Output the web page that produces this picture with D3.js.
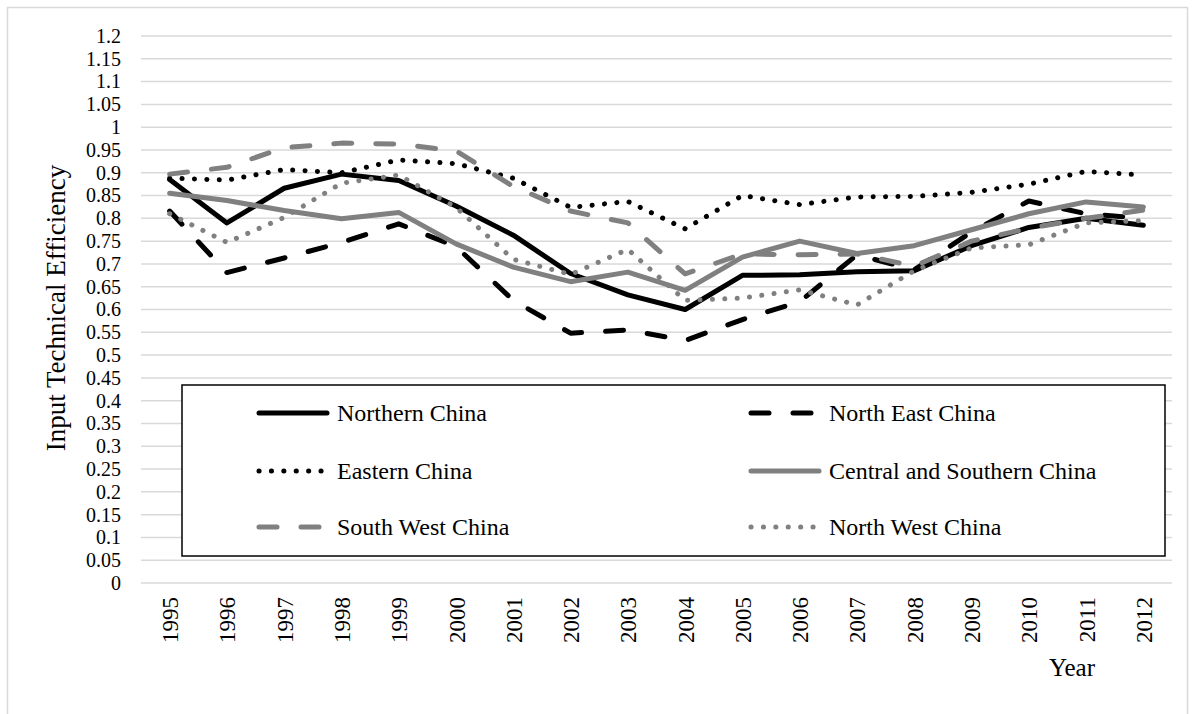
<html>
<head>
<script src="https://d3js.org/d3.v7.min.js"></script>
<style>
	body {
		margin: 0;
		background-color: white;
	}
	text {
		font-family: "Liberation Serif", "Times New Roman", serif;
	}
</style>
</head>
<body>
<div id="chart"></div>
<script>
	var width = 1195;
	var height = 714;

	var years = ["1995","1996","1997","1998","1999","2000","2001","2002","2003","2004","2005","2006","2007","2008","2009","2010","2011","2012"];
	var yTicks = [0,0.05,0.1,0.15,0.2,0.25,0.3,0.35,0.4,0.45,0.5,0.55,0.6,0.65,0.7,0.75,0.8,0.85,0.9,0.95,1,1.05,1.1,1.15,1.2];

	var northern = [0.885,0.790,0.866,0.897,0.883,0.827,0.763,0.679,0.632,0.600,0.675,0.676,0.683,0.685,0.740,0.780,0.800,0.785];
	var northEast = [0.816,0.681,0.713,0.747,0.788,0.738,0.620,0.548,0.555,0.532,0.578,0.617,0.720,0.687,0.770,0.838,0.810,0.800];
	var eastern = [0.888,0.884,0.907,0.900,0.928,0.920,0.888,0.824,0.837,0.777,0.850,0.830,0.847,0.848,0.857,0.875,0.903,0.895];
	var central = [0.855,0.839,0.817,0.799,0.813,0.744,0.693,0.661,0.682,0.642,0.715,0.750,0.723,0.740,0.775,0.810,0.836,0.825];
	var southWest = [0.897,0.912,0.955,0.965,0.963,0.948,0.870,0.816,0.790,0.678,0.722,0.720,0.722,0.695,0.750,0.778,0.800,0.818];
	var northWest = [0.810,0.747,0.802,0.877,0.895,0.824,0.710,0.677,0.732,0.620,0.625,0.643,0.610,0.685,0.735,0.742,0.790,0.795];

	var seriesNames = ["Northern China","North East China","Eastern China","Central and Southern China","South West China","North West China"];
	var seriesValues = [northern, northEast, eastern, central, southWest, northWest];
	// colour and dash per series
	var styles = [
		{color:"#000000", dash:null},
		{color:"#000000", dash:"18,24"},
		{color:"#000000", dash:"0.1,12.3"},
		{color:"#808080", dash:null},
		{color:"#808080", dash:"18,24"},
		{color:"#808080", dash:"0.1,12.3"}
	];

	var plotLeft = 141, plotRight = 1172, plotTop = 36, plotBottom = 583;

	var svg = d3.select("#chart").append("svg")
		.attr("width", width)
		.attr("height", height);

	svg.append("rect")
		.attr("x", 7.5).attr("y", 7.5)
		.attr("width", 1180).attr("height", 712)
		.attr("fill", "white")
		.attr("stroke", "#d9d9d9")
		.attr("stroke-width", 1.5);

	var x = d3.scalePoint()
		.domain(years)
		.range([plotLeft, plotRight])
		.padding(0.5);

	var y = d3.scaleLinear()
		.domain([0, 1.2])
		.range([plotBottom, plotTop]);

	// gridlines
	svg.selectAll("line.grid")
		.data(yTicks)
		.enter()
		.append("line")
		.attr("class", "grid")
		.attr("x1", plotLeft)
		.attr("x2", plotRight)
		.attr("y1", function(d){ return y(d); })
		.attr("y2", function(d){ return y(d); })
		.attr("stroke", "#d9d9d9")
		.attr("stroke-width", 1.5);

	// y axis labels (tight spacing, keep boxes from touching)
	var yAxis = d3.axisLeft(y)
		.tickValues(yTicks)
		.tickSize(0)
		.tickPadding(0)
		.tickFormat(function(d){ return String(+d.toFixed(2)); });
	var gy = svg.append("g")
		.attr("transform", "translate(121,0)")
		.call(yAxis);
	gy.select(".domain").remove();
	gy.selectAll("text")
		.attr("font-family", "Liberation Serif")
		.attr("font-size", 20)
		.attr("fill", "#000");

	// x axis labels
	var xAxis = d3.axisBottom(x).tickSize(0).tickPadding(0);
	var gx = svg.append("g")
		.attr("transform", "translate(0," + plotBottom + ")")
		.call(xAxis);
	gx.select(".domain").remove();
	gx.selectAll("text")
		.attr("font-family", "Liberation Serif")
		.attr("font-size", 23)
		.attr("fill", "#000")
		.attr("text-anchor", "end")
		.attr("dy", null)
		.attr("y", 0)
		.attr("transform", "translate(8,14) rotate(-90)");

	// lines
	var line = d3.line()
		.x(function(d, i){ return x(years[i]); })
		.y(function(d){ return y(d); });

	seriesValues.forEach(function(vals, k){
		svg.append("path")
			.datum(vals)
			.attr("d", line)
			.attr("fill", "none")
			.attr("stroke", styles[k].color)
			.attr("stroke-width", 5)
			.attr("stroke-linecap", "round")
			.attr("stroke-linejoin", "round")
			.attr("stroke-dasharray", styles[k].dash);
	});

	// legend
	var legend = svg.append("g");
	legend.append("rect")
		.attr("x", 182).attr("y", 385)
		.attr("width", 983).attr("height", 171)
		.attr("fill", "white")
		.attr("stroke", "#000")
		.attr("stroke-width", 1.5);

	var legCols = [259, 751];
	var legRows = [413, 471, 527];
	seriesNames.forEach(function(name, k){
		var lx = legCols[k % 2];
		var ly = legRows[Math.floor(k / 2)];
		legend.append("line")
			.attr("x1", lx).attr("x2", lx + 68)
			.attr("y1", ly).attr("y2", ly)
			.attr("stroke", styles[k].color)
			.attr("stroke-width", 5)
			.attr("stroke-linecap", "round")
			.attr("stroke-dasharray", styles[k].dash);
		legend.append("text")
			.attr("x", lx + 78)
			.attr("y", ly + 8)
			.attr("font-size", 24)
			.text(name);
	});

	// axis titles
	svg.append("text")
		.attr("transform", "translate(65,308) rotate(-90)")
		.attr("text-anchor", "middle")
		.attr("font-size", 27)
		.text("Input Technical Efficiency");

	svg.append("text")
		.attr("x", 1072)
		.attr("y", 676)
		.attr("text-anchor", "middle")
		.attr("font-size", 25)
		.text("Year");
</script>
</body>
</html>
